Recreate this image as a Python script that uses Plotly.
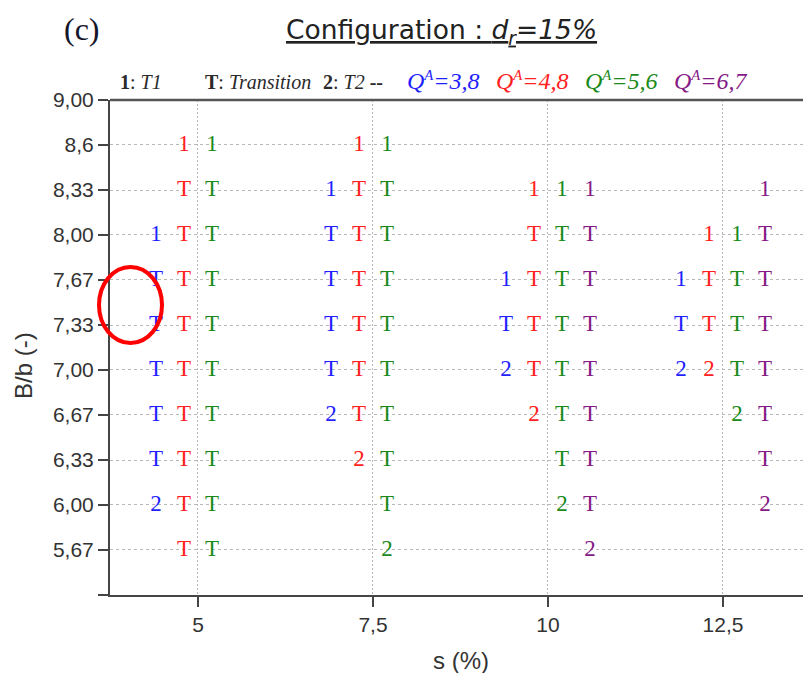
import plotly.graph_objects as go

# ---------------- data ----------------
s_values = [5, 7.5, 10, 12.5]
s_ticktext = ["5", "7,5", "10", "12,5"]

B_ticks = [5.333, 5.667, 6.00, 6.333, 6.667, 7.00, 7.333, 7.667, 8.00, 8.333, 8.667, 9.00]
B_ticktext = ["", "5,67", "6,00", "6,33", "6,67", "7,00", "7,33", "7,67", "8,00", "8,33", "8,6", "9,00"]

# rows of B/b (top to bottom) at which a regime code may be shown
B_rows = [8.667, 8.333, 8.00, 7.667, 7.333, 7.00, 6.667, 6.333, 6.00, 5.667]

Q_labels = ["3,8", "4,8", "5,6", "6,7"]

# regime codes per s value (5, 7.5, 10, 12.5), listed along B_rows
regime_Q38 = [
    ["", "", "1", "T", "T", "T", "T", "T", "2", ""],
    ["", "1", "T", "T", "T", "T", "2", "", "", ""],
    ["", "", "", "1", "T", "2", "", "", "", ""],
    ["", "", "", "1", "T", "2", "", "", "", ""],
]
regime_Q48 = [
    ["1", "T", "T", "T", "T", "T", "T", "T", "T", "T"],
    ["1", "T", "T", "T", "T", "T", "T", "2", "", ""],
    ["", "1", "T", "T", "T", "T", "2", "", "", ""],
    ["", "", "1", "T", "T", "2", "", "", "", ""],
]
regime_Q56 = [
    ["1", "T", "T", "T", "T", "T", "T", "T", "T", "T"],
    ["1", "T", "T", "T", "T", "T", "T", "T", "T", "2"],
    ["", "1", "T", "T", "T", "T", "T", "T", "2", ""],
    ["", "", "1", "T", "T", "T", "2", "", "", ""],
]
regime_Q67 = [
    ["", "", "", "", "", "", "", "", "", ""],
    ["", "", "", "", "", "", "", "", "", ""],
    ["", "1", "T", "T", "T", "T", "T", "T", "T", "2"],
    ["", "1", "T", "T", "T", "T", "T", "T", "2", ""],
]

legend_keys = ["<b>1</b>: <i>T1</i>", "<b>T</b>: <i>Transition</i>", "<b>2</b>: <i>T2</i> <b>--</b>"]

# ---------------- styling ----------------
colors = ["#1f1fff", "#ff2020", "#1a8a1a", "#861a86"]
series = [regime_Q38, regime_Q48, regime_Q56, regime_Q67]
AX = "#454545"
TXT = "#333333"

fig = go.Figure()
for i, (reg, col) in enumerate(zip(series, colors)):
    off = (i - 1.5) * 0.4
    xs, ys, tx = [], [], []
    for s, codes in zip(s_values, reg):
        for b, c in zip(B_rows, codes):
            if c:
                xs.append(s + off)
                ys.append(b)
                tx.append(c)
    fig.add_trace(go.Scatter(
        x=xs, y=ys, text=tx, mode="text",
        textposition="middle center",
        textfont=dict(family="Liberation Serif", size=23, color=col),
        hoverinfo="skip", showlegend=False, cliponaxis=False,
    ))

W, H = 803, 673
L, R, T, B = 110, 0, 100, 78
pw, ph = W - L - R, H - T - B


def px(x):
    return (x - L) / pw


def py(y):
    return (H - B - y) / ph


fig.update_layout(
    width=W, height=H,
    margin=dict(l=L, r=R, t=T, b=B),
    paper_bgcolor="white", plot_bgcolor="white",
    xaxis=dict(
        range=[3.743, 13.643],
        tickmode="array", tickvals=s_values, ticktext=s_ticktext,
        showline=True, linecolor=AX, linewidth=2,
        ticks="outside", ticklen=10, tickwidth=2, tickcolor=AX,
        showgrid=True, gridcolor="#b8b8b8", gridwidth=1, griddash="2px,2px",
        zeroline=False,
        tickfont=dict(family="Liberation Sans", size=21, color=TXT),
    ),
    yaxis=dict(
        range=[5.333, 9.0],
        tickmode="array", tickvals=B_ticks, ticktext=B_ticktext,
        showline=True, linecolor=AX, linewidth=2,
        ticks="outside", ticklen=10, tickwidth=2, tickcolor=AX,
        showgrid=True, gridcolor="#b8b8b8", gridwidth=1, griddash="3px,3px",
        zeroline=False,
        tickfont=dict(family="Liberation Sans", size=21, color=TXT),
    ),
)

annotations = [
    dict(text="<u>Configuration : <i>d<sub>r</sub>=15%</i></u>",
         x=px(441), y=py(31), xref="paper", yref="paper",
         xanchor="center", yanchor="middle", showarrow=False,
         font=dict(family="DejaVu Sans", size=26.5, color="#222222")),
    dict(text="(c)", x=px(82), y=py(29), xref="paper", yref="paper",
         xanchor="center", yanchor="middle", showarrow=False,
         font=dict(family="Liberation Serif", size=32, color="#15152a")),
    dict(text="s (%)", x=px(461), y=py(660), xref="paper", yref="paper",
         xanchor="center", yanchor="middle", showarrow=False,
         font=dict(family="Liberation Sans", size=24, color=TXT)),
    dict(text="B/b (-)", x=px(23), y=py(366), xref="paper", yref="paper",
         xanchor="center", yanchor="middle", showarrow=False, textangle=-90,
         font=dict(family="Liberation Sans", size=24, color=TXT)),
]

# legend line: black key texts then coloured Q^A entries
for txt, xl in zip(legend_keys, [118, 203, 321]):
    annotations.append(dict(
        text=txt, x=px(xl), y=py(82), xref="paper", yref="paper",
        xanchor="left", yanchor="middle", showarrow=False,
        font=dict(family="Liberation Serif", size=20, color="#2a2a2a")))
for q, c, xl in zip(Q_labels, colors, [405, 494, 583, 672]):
    annotations.append(dict(
        text=f"<i>Q<span style='font-size:21px'><sup>A</sup></span>=</i><i>{q}</i>",
        x=px(xl), y=py(81), xref="paper", yref="paper",
        xanchor="left", yanchor="middle", showarrow=False,
        font=dict(family="Liberation Serif", size=24, color=c)))

fig.update_layout(annotations=annotations)

fig.add_shape(type="line", xref="paper", yref="paper", x0=0, x1=1, y0=1, y1=1,
              line=dict(color="#555555", width=2.5), layer="above")
fig.add_shape(type="circle", xref="paper", yref="paper",
              x0=px(99), x1=px(162), y0=py(343), y1=py(267),
              line=dict(color="#ff0000", width=4), layer="above")

fig.write_html("out.html")
